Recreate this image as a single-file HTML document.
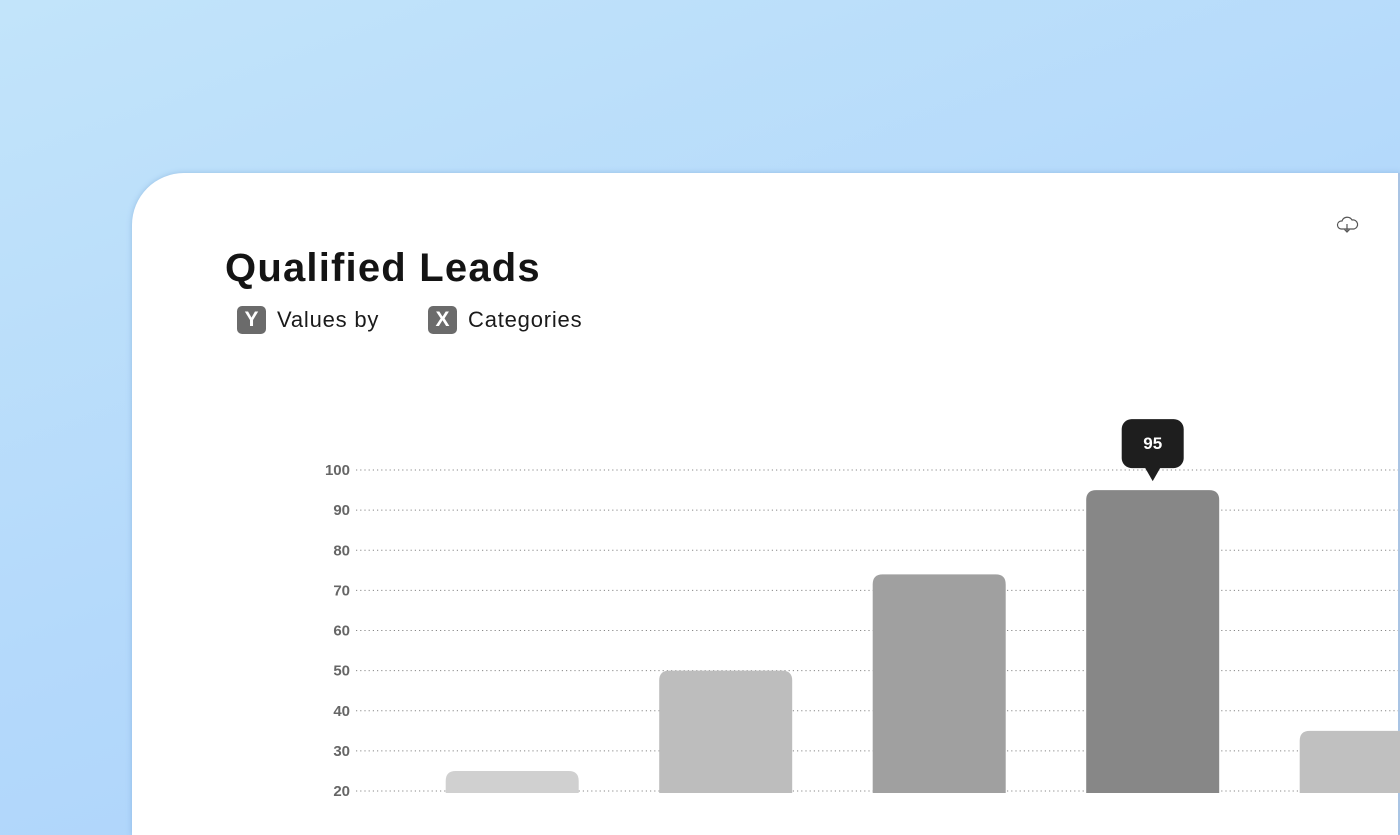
<!DOCTYPE html>
<html><head><meta charset="utf-8"><style>
html,body{margin:0;width:1400px;height:835px;overflow:hidden}
body{background:linear-gradient(160deg,#c2e4fa 0%,#b4d9fb 50%,#a9d0fb 100%);font-family:"Liberation Sans",sans-serif;position:relative}
#card{position:absolute;left:132px;top:173px;width:1266px;height:662px;background:#fff;border-top-left-radius:52px;box-shadow:0 0 6px rgba(80,130,190,.35);border-right:2px solid #a9c4e4}
#title{position:absolute;left:225px;top:246px;font-size:40px;font-weight:bold;color:#141414;letter-spacing:1.2px}
.leg{position:absolute;top:306px;font-size:22px;color:#1a1a1a;display:flex;align-items:center;letter-spacing:0.8px}
.badge{width:29px;height:28px;background:#6b6b6b;color:#fff;border-radius:5px;font-weight:bold;font-size:21px;display:flex;align-items:center;justify-content:center;margin-right:11px;letter-spacing:0}
</style></head><body>
<div id="card"></div>
<div id="title">Qualified Leads</div>
<div class="leg" style="left:237px"><span class="badge">Y</span>Values by</div>
<div class="leg" style="left:428px"><span class="badge">X</span>Categories</div>
<svg width="1400" height="835" style="position:absolute;left:0;top:0" id="chart">
<g fill="none" stroke="#555" stroke-width="1.2">
<path d="M1341 229 a4 4 0 0 1 1-8 a5.5 5.5 0 0 1 10-1 a4 4 0 0 1 2 9 Z"/><path d="M1347 224 v8 M1344.5 229.5 l2.5 2.5 l2.5-2.5"/>
</g>
</svg>
<script>
const categories=["A","B","C","D","E"];
const values=[25,50,74,95,35];
const colors=["#d0d0d0","#bdbdbd","#a0a0a0","#878787","#c0c0c0"];
const ticks=[20,30,40,50,60,70,80,90,100];
const highlight=3;
const svg=document.getElementById('chart');
const NS='http://www.w3.org/2000/svg';
const y=v=>791-(v-20)*4.0125;
const xc=i=>512.2+i*213.5;
ticks.forEach(t=>{
 const l=document.createElementNS(NS,'line');
 
 
 l.setAttribute('x1',356);l.setAttribute('x2',1398);l.setAttribute('y1',y(t));l.setAttribute('y2',y(t));
 l.setAttribute('stroke','#888');l.setAttribute('stroke-dasharray','1.2 3');l.setAttribute('stroke-width','1');
 svg.appendChild(l);
 const tx=document.createElementNS(NS,'text');
 
 
 tx.setAttribute('x',350);tx.setAttribute('y',y(t)+5);tx.setAttribute('text-anchor','end');
 tx.setAttribute('font-size','15');tx.setAttribute('font-weight','bold');tx.setAttribute('fill','#666');
 tx.textContent=t;svg.appendChild(tx);
});
values.forEach((v,i)=>{
 const r=document.createElementNS(NS,'path');
 
 
 const x0=xc(i)-66.5,w=133,top=y(v),b=793,rr=10;
 r.setAttribute('d',`M${x0} ${b} V${top+rr} Q${x0} ${top} ${x0+rr} ${top} H${x0+w-rr} Q${x0+w} ${top} ${x0+w} ${top+rr} V${b} Z`);
 r.setAttribute('fill',colors[i]);svg.appendChild(r);
});
const hv=values[highlight],cx=xc(highlight),ty=y(hv)-71;
const tip=document.createElementNS(NS,'g');


tip.innerHTML=`<rect x="${cx-31}" y="${ty}" width="62" height="49" rx="10" fill="#1e1e1e"/><path d="M${cx-8} ${ty+48} L${cx} ${ty+62} L${cx+8} ${ty+48}Z" fill="#1e1e1e"/><text x="${cx}" y="${ty+30}" text-anchor="middle" font-size="17" font-weight="bold" fill="#fff">${hv}</text>`;
svg.appendChild(tip);
</script>
</body></html>
